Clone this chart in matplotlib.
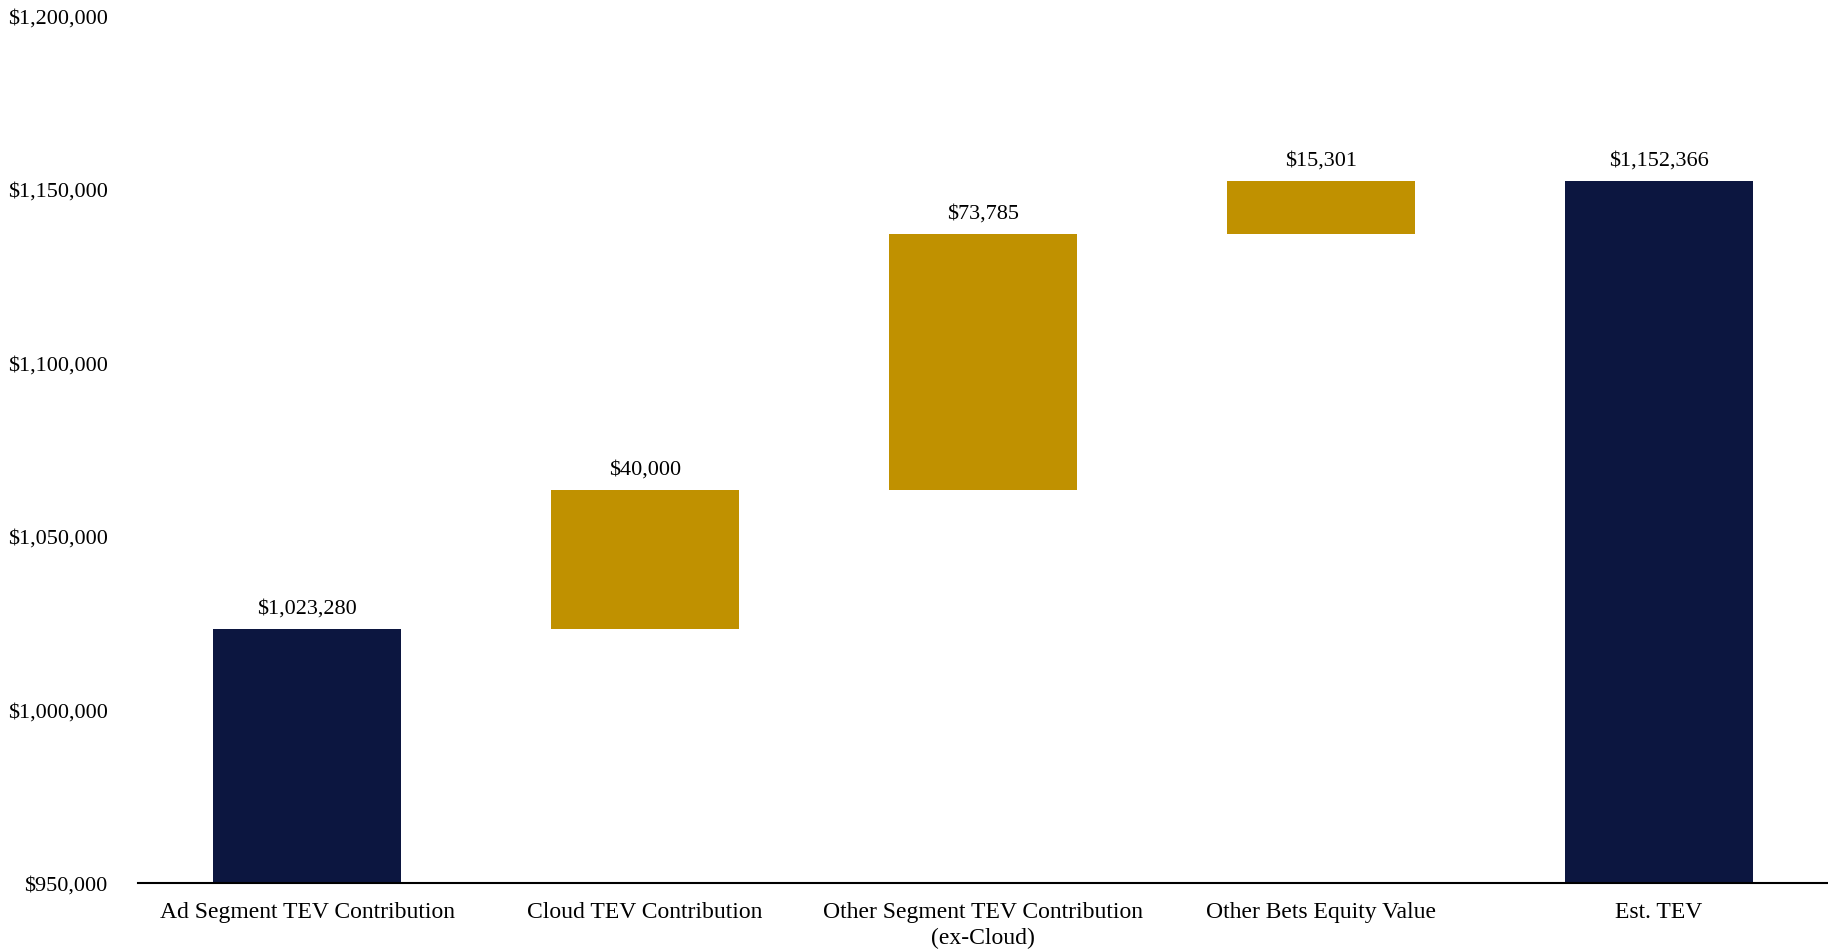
import matplotlib
matplotlib.use("Agg")
import matplotlib.pyplot as plt
from matplotlib import ticker

# waterfall data
categories = ["Ad Segment TEV Contribution", "Cloud TEV Contribution",
              "Other Segment TEV Contribution\n(ex-Cloud)", "Other Bets Equity Value",
              "Est. TEV"]
start_value = 1023280
increments = [40000, 73785, 15301]
total_value = 1152366

navy = "#0C1640"
gold = "#C09100"

plt.rcParams['font.family'] = ['Liberation Serif', 'DejaVu Serif']

fig = plt.figure(figsize=(18.28, 9.53), dpi=100)
ax = fig.add_axes([0.0755, 0.0725, 0.9245, 0.9105])

# bottoms / heights from the data
bottoms = [950000]
heights = [start_value - 950000]
labels = [start_value]
running = start_value
for inc in increments:
    bottoms.append(running)
    heights.append(inc)
    labels.append(inc)
    running += inc
bottoms.append(950000)
heights.append(total_value - 950000)
labels.append(total_value)
colors = [navy] + [gold] * len(increments) + [navy]

x = list(range(len(categories)))
ax.bar(x, heights, bottom=bottoms, width=0.555, color=colors)

for xi, b, h, lab in zip(x, bottoms, heights, labels):
    ax.annotate(f"${lab:,.0f}", (xi, b + h), xytext=(0, 8), textcoords="offset points",
                ha="center", va="bottom", fontsize=16)

ax.set_xlim(-0.5, len(categories) - 0.5)
ax.set_ylim(950000, 1200000)
ax.yaxis.set_major_locator(ticker.MultipleLocator(50000))
ax.yaxis.set_major_formatter(ticker.StrMethodFormatter("${x:,.0f}"))
ax.set_xticks(x)
ax.set_xticklabels(categories, fontsize=17, linespacing=1.3)
ax.tick_params(axis='y', length=0, labelsize=16, pad=22)
ax.tick_params(axis='x', length=0, pad=13)
for s in ["top", "right", "left"]:
    ax.spines[s].set_visible(False)
ax.spines["bottom"].set_linewidth(1.5)
ax.spines["bottom"].set_color("black")

fig.savefig("out.png", dpi=100)
